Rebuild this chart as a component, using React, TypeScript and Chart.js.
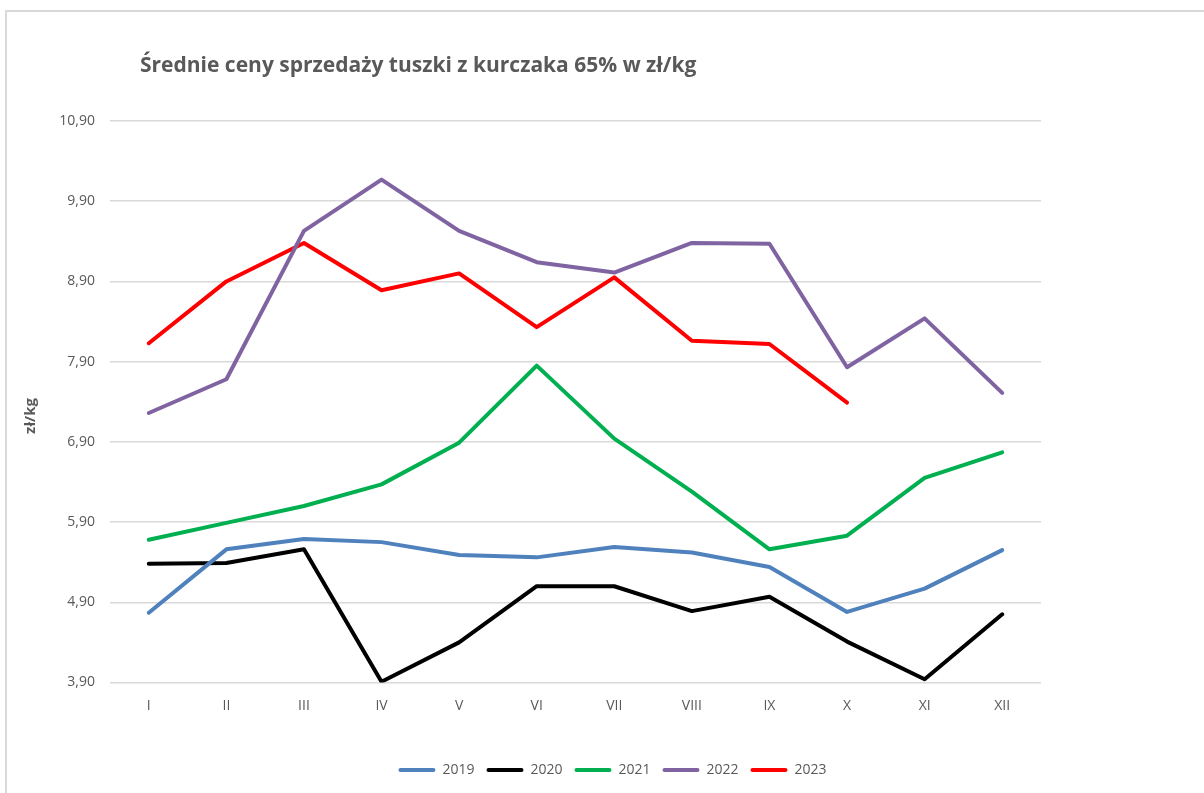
import React, { useEffect, useRef } from "react";
import { Chart, registerables } from "chart.js";

Chart.register(...registerables);

const months = ["I", "II", "III", "IV", "V", "VI", "VII", "VIII", "IX", "X", "XI", "XII"];
const yTicks = [3.9, 4.9, 5.9, 6.9, 7.9, 8.9, 9.9, 10.9];

const s2019 = [4.77, 5.56, 5.69, 5.65, 5.49, 5.46, 5.59, 5.52, 5.34, 4.78, 5.07, 5.55];
const s2020 = [5.38, 5.39, 5.56, 3.91, 4.40, 5.10, 5.10, 4.79, 4.97, 4.41, 3.94, 4.75];
const s2021 = [5.68, 5.89, 6.10, 6.37, 6.89, 7.85, 6.94, 6.28, 5.56, 5.73, 6.45, 6.77];
const s2022 = [7.26, 7.68, 9.53, 10.17, 9.53, 9.14, 9.01, 9.38, 9.37, 7.83, 8.44, 7.51];
const s2023 = [8.13, 8.90, 9.38, 8.79, 9.00, 8.33, 8.95, 8.16, 8.12, 7.39];

const seriesNames = ["2019", "2020", "2021", "2022", "2023"];
const seriesColors = ["#4f81bd", "#000000", "#00b050", "#8064a2", "#ff0000"];

const TITLE = "Średnie ceny sprzedaży tuszki z kurczaka 65% w zł/kg";
const Y_TITLE = "zł/kg";
const W = 1204;
const H = 793;

export default function App() {
  const ref = useRef<HTMLCanvasElement | null>(null);

  useEffect(() => {
    if (!ref.current) return;
    const values = [s2019, s2020, s2021, s2022, s2023];
    const gray = "#595959";

    const titlePlugin = {
      id: "customTitle",
      afterDraw(chart: any) {
        const ctx = chart.ctx;
        ctx.save();
        ctx.font = 'bold 21px "Open Sans"';
        ctx.fillStyle = gray;
        ctx.textAlign = "left";
        ctx.textBaseline = "alphabetic";
        ctx.fillText(TITLE, 140, 72);
        ctx.translate(31, 416);
        ctx.rotate(-Math.PI / 2);
        ctx.font = 'bold 15px "Open Sans"';
        ctx.textAlign = "center";
        ctx.textBaseline = "middle";
        ctx.fillText(Y_TITLE, 0, 0);
        ctx.restore();
      },
    };

    const legendShift = {
      id: "legendShift",
      afterLayout(chart: any) {
        const lg = chart.legend;
        if (!lg) return;
        const delta = 612.5 - (lg.left + lg.right) / 2;
        lg.left += delta;
        lg.right += delta;
        const h = lg.bottom - lg.top;
        lg.top = 768 - 10 - 7;
        lg.bottom = lg.top + h;
      },
    };

    const chart = new Chart(ref.current, {
      type: "line",
      data: {
        labels: months,
        datasets: values.map((v, i) => ({
          label: seriesNames[i],
          data: v,
          borderColor: seriesColors[i],
          backgroundColor: seriesColors[i],
          borderWidth: 4,
          pointRadius: 0,
          pointHoverRadius: 0,
          tension: 0,
          borderCapStyle: "round",
          borderJoinStyle: "round",
          fill: false,
        })),
      },
      options: {
        responsive: false,
        animation: false,
        devicePixelRatio: 1,
        layout: { padding: { left: 10, right: 163, top: 121, bottom: 0 } },
        plugins: {
          title: { display: false },
          tooltip: { enabled: false },
          legend: {
            display: true,
            position: "bottom",
            labels: {
              boxWidth: 37,
              boxHeight: 4,
              padding: 12,
              color: gray,
              font: { family: "Open Sans", size: 14 },
              useBorderRadius: true,
              borderRadius: 2,
              generateLabels: (c: any) =>
                c.data.datasets.map((d: any, i: number) => ({
                  text: d.label,
                  fillStyle: d.borderColor,
                  strokeStyle: d.borderColor,
                  lineWidth: 0,
                  hidden: false,
                  datasetIndex: i,
                  fontColor: gray,
                  borderRadius: 2,
                })),
            },
          },
        },
        scales: {
          x: {
            offset: true,
            grid: { display: false, drawTicks: false },
            border: { display: false },
            ticks: {
              color: gray,
              font: { family: "Open Sans", size: 14 },
              padding: 15,
              maxRotation: 0,
            },
            afterFit(scale: any) {
              const lh = scale.chart.legend ? scale.chart.legend.height : 0;
              scale.height = H - 682.5 - lh;
            },
          },
          y: {
            min: 3.9,
            max: 10.9,
            afterBuildTicks(scale: any) {
              scale.ticks = yTicks.map((v) => ({ value: v }));
            },
            afterFit(scale: any) {
              scale.width = 100;
            },
            grid: { color: "#d9d9d9", lineWidth: 1.5, drawTicks: false },
            border: { display: false },
            ticks: {
              color: gray,
              font: { family: "Open Sans", size: 14 },
              padding: 15,
              callback: (v: any) => Number(v).toFixed(2).replace(".", ","),
            },
            title: { display: false },
          },
        },
      },
      plugins: [titlePlugin, legendShift],
    } as any);
    return () => chart.destroy();
  }, []);

  return (
    <div style={{ position: "fixed", left: 0, top: 0, width: W, height: H, overflow: "hidden", background: "#fff" }}>
      <div
        style={{
          position: "absolute",
          left: 5,
          top: 10,
          width: W,
          height: H,
          borderTop: "2px solid #d9d9d9",
          borderLeft: "2px solid #d9d9d9",
        }}
      />
      <canvas ref={ref} width={W} height={H} style={{ position: "absolute", left: 0, top: 0, width: W, height: H }} />
    </div>
  );
}
